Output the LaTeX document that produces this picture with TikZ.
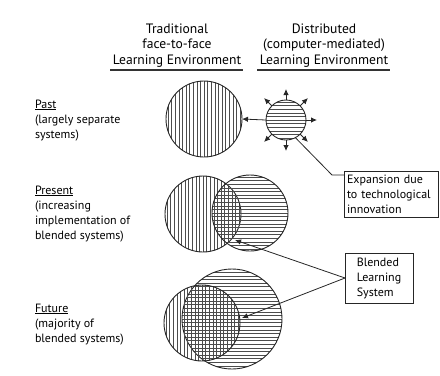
\documentclass[tikz,border=0pt]{standalone}
\usepackage{fontspec}
\setmainfont{PT Sans}
\usetikzlibrary{arrows.meta}
\begin{document}
\begin{tikzpicture}[x=1bp,y=1bp,
  every node/.style={inner sep=0pt, outer sep=0pt},
  lbl/.style={anchor=base west, align=left, font=\fontsize{12bp}{15bp}\selectfont},
  hdr/.style={anchor=base, align=center, font=\fontsize{13.6bp}{15.5bp}\selectfont},
  hatchline/.style={line width=0.45bp, draw=black!70},
  ring/.style={circle, draw=black!85, line width=0.9bp},
  vh/.style={path picture={\foreach \i in {-16,...,16}
     \draw[hatchline] ([xshift=\i*3.6bp]path picture bounding box.north) -- ([xshift=\i*3.6bp]path picture bounding box.south);}},
  hh/.style={path picture={\foreach \i in {-16,...,16}
     \draw[hatchline] ([yshift=\i*3.6bp]path picture bounding box.west) -- ([yshift=\i*3.6bp]path picture bounding box.east);}},
  conn/.style={draw=black!85, line width=0.8bp},
  tip/.style={conn, -{Latex[length=6bp,width=5.5bp]}},
  box/.style={draw=black!85, line width=0.8bp, align=left, font=\fontsize{12bp}{15bp}\selectfont},
  uline/.style={draw=black!80, line width=1.1bp}
]
\useasboundingbox (0,0) rectangle (440,-375);
% headers
\node[hdr] (hdrL) at (177,-64) {Traditional\\face-to-face\\Learning Environment};
\node[hdr] (hdrR) at (324,-64) {Distributed\\(computer-mediated)\\Learning Environment};
\coordinate (uL1) at (110,-70); \coordinate (uL2) at (243,-70);
\coordinate (uR1) at (257,-70); \coordinate (uR2) at (390,-70);
\draw[uline] (uL1) -- (uL2);
\draw[uline] (uR1) -- (uR2);
% row labels
\node[lbl] (lpast) at (35,-138) {\underline{Past}\\(largely separate\\systems)};
\node[lbl] (lpres) at (35,-239) {\underline{Present}\\(increasing\\implementation of\\blended systems)};
\node[lbl] (lfut) at (35,-342) {\underline{Future}\\(majority of\\blended systems)};
% past
\node[ring, vh, minimum size=76bp] (pastT) at (204,-119) {};
\node[ring, hh, minimum size=40bp] (pastD) at (286,-120) {};
\foreach \a in {0,45,90,135,225,270,315}
  \draw[tip] (pastD.\a) -- ([shift={(\a:31bp)}]pastD.center);
\draw[tip] (pastD.west) -- (pastT.east);
% present
\node[ring, vh, minimum size=76bp] (presT) at (203,-214) {};
\node[ring, hh, minimum size=76bp] (presD) at (250,-213) {};
% future
\node[ring, hh, minimum size=100bp] (futD) at (232,-319) {};
\node[ring, vh, minimum size=76bp] (futT) at (202,-323) {};
% boxes
\node[box, anchor=north west, minimum width=94bp, minimum height=46bp, text width=88bp, inner xsep=3bp] (exp) at (344,-171) {Expansion due\\to technological\\innovation};
\node[box, minimum width=68bp, minimum height=50bp] (blend) at (379,-278) {Blended\\Learning\\System};
% connectors
\coordinate (bend) at (332,-175);
\draw[conn] (pastD.-62) -- (bend) -- (bend -| exp.west);
\coordinate (presX) at (235,-240);
\coordinate (futX) at (242,-318);
\draw[tip] (blend.west) -- (presX);
\draw[tip] (blend.west) -- (futX);
\end{tikzpicture}
\end{document}
